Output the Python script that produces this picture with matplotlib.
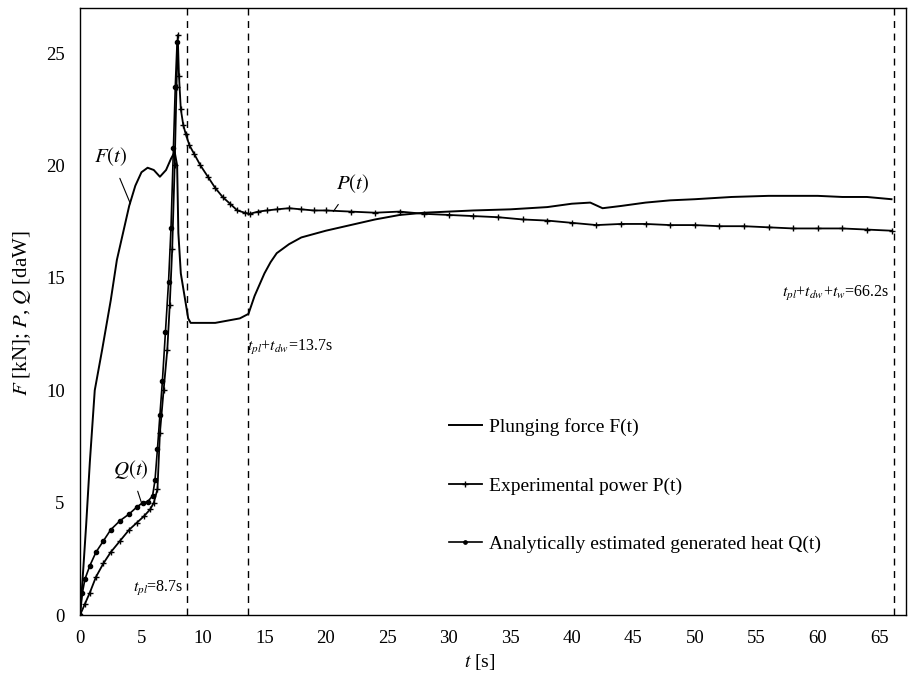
import matplotlib
matplotlib.use("Agg")
import matplotlib.pyplot as plt

plt.rcParams['font.family'] = ['Liberation Serif', 'DejaVu Serif']
plt.rcParams['mathtext.fontset'] = 'stix'

# Plunging force F(t) [kN]
F_t = [0, 0.2, 0.5, 0.8, 1.2, 1.8, 2.5, 3.0, 3.5, 4.0, 4.5, 5.0, 5.5, 6.0, 6.5, 7.0,
       7.4, 7.7, 7.9, 8.0, 8.2, 8.5, 8.8, 9.0, 10, 11, 12, 13, 13.7, 14.2, 15, 15.5,
       16, 17, 18, 20, 22, 24, 26, 28, 30, 32, 35, 38, 40, 41.5, 42.5, 44, 46, 48,
       50, 53, 56, 58, 60, 62, 64, 66]
F = [0, 1.5, 4, 6.8, 10, 11.8, 14, 15.8, 17, 18.2, 19.1, 19.7, 19.9, 19.8, 19.5, 19.8,
     20.3, 20.6, 20.0, 17.0, 15.2, 14.2, 13.2, 13.0, 13.0, 13.0, 13.1, 13.2, 13.4, 14.2,
     15.2, 15.7, 16.1, 16.5, 16.8, 17.1, 17.35, 17.6, 17.8, 17.9, 17.95, 18.0, 18.05,
     18.15, 18.3, 18.35, 18.1, 18.2, 18.35, 18.45, 18.5, 18.6, 18.65, 18.65, 18.65,
     18.6, 18.6, 18.5]

# Experimental power P(t) [daW]
P_t = [0, 0.4, 0.8, 1.3, 1.9, 2.5, 3.25, 4.0, 4.6, 5.2, 5.7, 6.0, 6.3, 6.5, 6.8, 7.1,
       7.3, 7.5, 7.7, 7.85, 7.95, 8.05, 8.2, 8.4, 8.6, 8.9, 9.3, 9.8, 10.4, 11.0, 11.6,
       12.2, 12.8, 13.4, 13.8, 14.5, 15.2, 16, 17, 18, 19, 20, 22, 24, 26, 28, 30, 32,
       34, 36, 38, 40, 42, 44, 46, 48, 50, 52, 54, 56, 58, 60, 62, 64, 66]
P = [0, 0.5, 1.0, 1.7, 2.3, 2.8, 3.3, 3.8, 4.1, 4.4, 4.7, 5.0, 5.6, 8.1, 10.0, 11.8,
     13.8, 16.3, 20.0, 23.5, 25.8, 24.0, 22.5, 21.8, 21.4, 20.9, 20.5, 20.0, 19.5, 19.0,
     18.6, 18.3, 18.0, 17.9, 17.85, 17.95, 18.0, 18.05, 18.1, 18.05, 18.0, 18.0, 17.95,
     17.9, 17.95, 17.85, 17.8, 17.75, 17.7, 17.6, 17.55, 17.45, 17.35, 17.4, 17.4, 17.35,
     17.35, 17.3, 17.3, 17.25, 17.2, 17.2, 17.2, 17.15, 17.1]

# Analytically estimated generated heat Q(t) [daW]
Q_t = [0, 0.2, 0.4, 0.8, 1.3, 1.9, 2.5, 3.25, 4.0, 4.6, 5.1, 5.5, 5.9, 6.1, 6.3, 6.5,
       6.7, 6.95, 7.2, 7.4, 7.6, 7.75, 7.9]
Q = [0, 1.0, 1.6, 2.2, 2.8, 3.3, 3.8, 4.2, 4.5, 4.8, 5.0, 5.05, 5.3, 6.0, 7.4, 8.9,
     10.4, 12.6, 14.8, 17.2, 20.8, 23.5, 25.5]

# characteristic times [s]
t_marks = [8.7, 13.7, 66.2]

fig = plt.figure(figsize=(9.09, 6.76), dpi=100)
ax = fig.add_axes([0.088, 0.09, 0.909, 0.898])

ax.plot(F_t, F, color='black', lw=1.4, label='Plunging force F(t)')
ax.plot(P_t, P, color='black', lw=1.3, marker='+', ms=5, mew=1.0,
        label='Experimental power P(t)')
ax.plot(Q_t, Q, color='black', lw=1.2, marker='o', ms=3,
        label='Analytically estimated generated heat Q(t)')

for tm in t_marks:
    ax.axvline(tm, color='black', lw=1.0, ls=(0, (5, 4)))

ax.set_xlim(0, 67.2)
ax.set_ylim(0, 27)
ax.set_xticks(range(0, 70, 5))
ax.set_yticks(range(0, 30, 5))
ax.tick_params(length=0, labelsize=13.5, pad=11)
for s in ax.spines.values():
    s.set_linewidth(1.0)

fig.text(22 / 909, 1 - 313 / 676, '$F$ [kN]; $P$, $Q$ [daW]', fontsize=15,
         rotation=90, ha='center', va='center')
fig.text(480 / 909, 1 - 662 / 676, '$t$ [s]', fontsize=14, ha='center', va='center')

# time annotations
ax.text(8.4, 1.2, '$t_{pl}$=8.7s', fontsize=11.5, ha='right', va='center')
ax.text(13.6, 11.9, '$t_{pl}$+$t_{dw}$=13.7s', fontsize=11.5, ha='left', va='center')
ax.text(65.8, 14.3, '$t_{pl}$+$t_{dw}$+$t_{w}$=66.2s', fontsize=11.5, ha='right', va='center')

# curve labels
ax.annotate('$F(t)$', xy=(4.1, 18.3), xytext=(2.5, 20.4), fontsize=15,
            ha='center', va='center',
            arrowprops=dict(arrowstyle='-', lw=0.8, shrinkA=6, shrinkB=0))
ax.annotate('$P(t)$', xy=(20.6, 17.95), xytext=(22.2, 19.2), fontsize=15,
            ha='center', va='center',
            arrowprops=dict(arrowstyle='-', lw=0.8, shrinkA=6, shrinkB=0))
ax.annotate('$Q(t)$', xy=(5.0, 5.0), xytext=(4.1, 6.5), fontsize=15,
            ha='center', va='center',
            arrowprops=dict(arrowstyle='-', lw=0.8, shrinkA=6, shrinkB=0))

ax.legend(loc='upper left', bbox_to_anchor=(0.425, 0.353), frameon=False,
          fontsize=14, labelspacing=2.1, handlelength=1.7, handletextpad=0.4,
          markerscale=0.8)

fig.savefig('out.png', dpi=100)
